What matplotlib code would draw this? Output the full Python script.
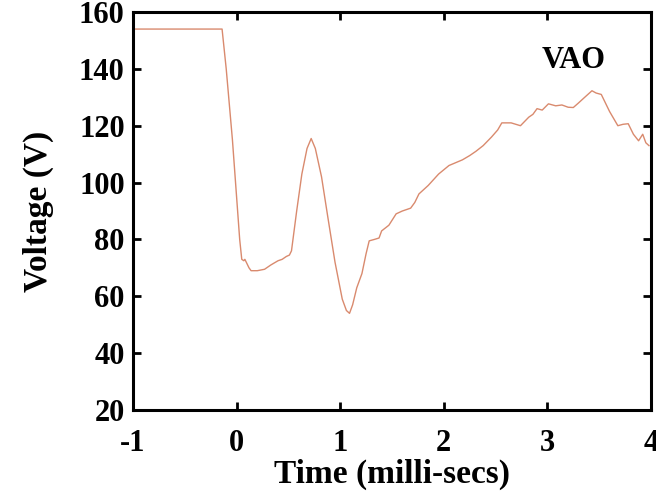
import numpy as np
import matplotlib
matplotlib.use("Agg")
import matplotlib.pyplot as plt

# time in milli-secs, voltage in V
time_ms = [-1.0, -0.14, -0.10, -0.04, 0.00, 0.03, 0.05, 0.07, 0.08, 0.10,
           0.12, 0.14, 0.20, 0.27, 0.33, 0.40, 0.44, 0.48, 0.51, 0.53,
           0.58, 0.63, 0.68, 0.72, 0.76, 0.82, 0.88, 0.95, 1.02, 1.06,
           1.09, 1.12, 1.16, 1.21, 1.25, 1.28, 1.33, 1.375, 1.40, 1.47,
           1.54, 1.60, 1.68, 1.72, 1.76, 1.85, 1.95, 2.05, 2.18, 2.25,
           2.31, 2.38, 2.46, 2.52, 2.56, 2.65, 2.74, 2.78, 2.82, 2.86,
           2.90, 2.95, 3.01, 3.08, 3.14, 3.20, 3.25, 3.30, 3.36, 3.43,
           3.47, 3.52, 3.56, 3.60, 3.68, 3.73, 3.78, 3.83, 3.88, 3.92,
           3.95, 3.98]
voltage = [154, 154, 140, 115, 95, 80, 73, 72.5, 73, 71.5,
           70, 69, 69, 69.5, 71, 72.5, 73, 74, 74.5, 76,
           90, 103, 112, 115.5, 112, 102, 88, 72, 59, 55,
           54, 57, 63, 68, 75, 79.5, 80, 80.5, 83, 85,
           89, 90, 91, 93, 96, 99, 103, 106, 108, 109.5,
           111, 113, 116, 118.5, 121, 121, 120, 121.5, 123, 124,
           126, 125.5, 127.7, 127, 127.3, 126.5, 126.4, 128, 130, 132.3,
           131.5, 131, 128, 125, 120, 120.5, 120.7, 117, 114.7, 117,
           114, 113]

vao_label = "VAO"

plt.rcParams["font.family"] = ["Liberation Serif", "DejaVu Serif"]
plt.rcParams["font.weight"] = "bold"
plt.rcParams["axes.labelweight"] = "bold"
plt.rcParams["axes.unicode_minus"] = False

fig = plt.figure(figsize=(6.56, 4.96), dpi=100)
ax = fig.add_axes([0.2027, 0.1734, 0.7897, 0.8024])

ax.plot(time_ms, voltage, color="#d98a6e", lw=1.0)

ax.text(3.25, 143, vao_label, fontsize=22, fontweight="bold",
        ha="center", va="center")

ax.set_xlim(-1, 4)
ax.set_ylim(20, 160)
ax.set_xticks([-1, 0, 1, 2, 3, 4])
ax.set_yticks(np.arange(20, 161, 20))

for s in ax.spines.values():
    s.set_linewidth(2.2)
ax.tick_params(direction="in", length=6, width=2, labelsize=22,
               top=True, right=True)
ax.tick_params(axis="x", pad=14)
ax.tick_params(axis="y", pad=6)

ax.set_xlabel("Time (milli-secs)", fontsize=24, labelpad=0)
ax.set_ylabel("Voltage (V)", fontsize=24, labelpad=18)

fig.savefig("out.png", dpi=100)
